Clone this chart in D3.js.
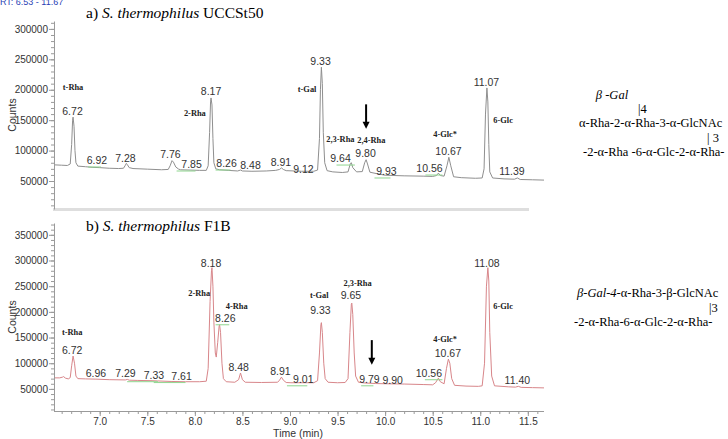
<!DOCTYPE html>
<html>
<head>
<meta charset="utf-8">
<script src="https://cdn.jsdelivr.net/npm/d3@7"></script>
<style>
  body { margin: 0; background: #fff; }
  svg { display: block; }
</style>
</head>
<body>
<svg id="chart"></svg>
<script>
// GC-MS chromatograms of partially methylated alditol acetates
// a) S. thermophilus UCCSt50   b) S. thermophilus F1B

const svg_w = 728;
const svg_h = 439;

// time window shown (min)
const rt_range = [6.53, 11.67];
const x_ticks = [7.0, 7.5, 8.0, 8.5, 9.0, 9.5, 10.0, 10.5, 11.0, 11.5];

// y ticks of each panel
const y_ticks_a = [50000, 100000, 150000, 200000, 250000, 300000];
const y_ticks_b = [50000, 100000, 150000, 200000, 250000, 300000, 350000];

// trace a) : [time (min), counts]
const trace_a = [
  [6.53, 76500], [6.60, 76000], [6.66, 75500], [6.69, 78000], [6.705, 110000], [6.715, 150000],
  [6.72, 155000], [6.73, 140000], [6.74, 100000], [6.75, 80000], [6.77, 74500], [6.85, 73500],
  [6.92, 72500], [7.00, 72000], [7.10, 71000], [7.20, 70500], [7.25, 71000], [7.27, 76000],
  [7.28, 79000], [7.29, 77000], [7.31, 72000], [7.35, 70500], [7.50, 69500], [7.65, 68500],
  [7.72, 69000], [7.74, 75000], [7.76, 83500], [7.775, 81000], [7.80, 73000], [7.83, 69500],
  [7.85, 68500], [7.95, 68000], [8.05, 67500], [8.12, 67500], [8.14, 75000], [8.155, 130000],
  [8.165, 180000], [8.17, 186500], [8.18, 175000], [8.19, 120000], [8.20, 80000], [8.22, 70000],
  [8.26, 68500], [8.35, 67500], [8.45, 66500], [8.48, 68000], [8.50, 66500], [8.60, 66000],
  [8.75, 66500], [8.85, 67500], [8.89, 69000], [8.91, 71500], [8.93, 69000], [8.96, 67000],
  [9.05, 66500], [9.12, 66000], [9.25, 66000], [9.29, 68000], [9.31, 120000], [9.32, 200000],
  [9.33, 237000], [9.34, 210000], [9.35, 130000], [9.365, 80000], [9.39, 67000], [9.45, 65000],
  [9.55, 64000], [9.61, 65000], [9.635, 79000], [9.645, 80000], [9.66, 72000], [9.70, 65000],
  [9.76, 65500], [9.785, 80000], [9.80, 85000], [9.815, 78000], [9.84, 64500], [9.93, 61500],
  [10.0, 59500], [10.2, 58500], [10.4, 58000], [10.50, 57500], [10.54, 59000], [10.56, 63000],
  [10.58, 59000], [10.62, 58000], [10.65, 75000], [10.67, 89000], [10.69, 75000], [10.72, 57000],
  [10.80, 55500], [10.95, 54500], [11.02, 55000], [11.04, 70000], [11.055, 160000], [11.07, 203000],
  [11.08, 180000], [11.09, 110000], [11.10, 65000], [11.13, 55000], [11.25, 53500], [11.36, 53000],
  [11.39, 55000], [11.42, 52500], [11.55, 52000], [11.67, 51500]
];

// trace b) : [time (min), counts]
const trace_b = [
  [6.53, 71500], [6.58, 71500], [6.61, 73000], [6.62, 74000], [6.64, 71000], [6.67, 69500],
  [6.69, 72000], [6.705, 95000], [6.72, 114000], [6.735, 100000], [6.75, 75000], [6.77, 70000],
  [6.85, 69500], [6.96, 69000], [7.10, 68000], [7.27, 67500], [7.29, 68500], [7.31, 67000],
  [7.40, 66500], [7.55, 66000], [7.61, 65500], [7.75, 64500], [7.90, 64000], [8.05, 64000],
  [8.12, 65000], [8.14, 90000], [8.16, 220000], [8.175, 280000], [8.18, 286000], [8.19, 250000],
  [8.20, 180000], [8.215, 120000], [8.225, 112000], [8.24, 140000], [8.255, 172000], [8.26, 175000],
  [8.27, 160000], [8.285, 100000], [8.30, 70000], [8.33, 64000], [8.42, 63000], [8.46, 68000],
  [8.48, 81000], [8.50, 68000], [8.53, 63000], [8.70, 62500], [8.87, 63000], [8.89, 67000],
  [8.91, 73000], [8.93, 67000], [8.96, 62500], [9.01, 62000], [9.15, 62000], [9.25, 62000],
  [9.29, 66000], [9.31, 120000], [9.325, 175000], [9.33, 179000], [9.34, 160000], [9.355, 100000],
  [9.37, 70000], [9.40, 63000], [9.50, 62000], [9.58, 62500], [9.61, 70000], [9.63, 160000],
  [9.645, 215000], [9.65, 217000], [9.66, 195000], [9.675, 120000], [9.69, 75000], [9.72, 63000],
  [9.79, 61500], [9.90, 60500], [10.0, 60000], [10.2, 59500], [10.4, 58500], [10.50, 58000],
  [10.53, 62000], [10.56, 71000], [10.58, 64000], [10.62, 60000], [10.645, 90000], [10.665, 108000],
  [10.68, 100000], [10.70, 70000], [10.73, 57000], [10.85, 55500], [10.98, 55000], [11.02, 56000],
  [11.045, 100000], [11.065, 250000], [11.08, 286000], [11.09, 260000], [11.10, 160000], [11.12, 75000],
  [11.15, 56000], [11.30, 54000], [11.37, 53500], [11.40, 55000], [11.43, 53000], [11.55, 52500],
  [11.67, 52000]
];

// retention time labels: text, where it is centred (min), height of its peak (counts)
const rt_text_a = ["6.72", "6.92", "7.28", "7.76", "7.85", "8.17", "8.26", "8.48", "8.91", "9.12",
                   "9.33", "9.64", "9.80", "9.93", "10.56", "10.67", "11.07", "11.39"];
const rt_at_a = [6.714, 6.971, 7.271, 7.744, 7.965, 8.17, 8.333, 8.585, 8.905, 9.142,
                 9.321, 9.531, 9.794, 10.014, 10.466, 10.666, 11.065, 11.333];
const rt_counts_a = [155000, 74700, 78000, 84600, 68100, 188000, 69700, 66400, 71400, 59900,
                     237500, 77900, 86100, 56600, 61500, 89500, 203000, 56600];
const green_a = ["6.92", "7.85", "8.26", "9.64", "9.93", "10.56"];

const rt_text_b = ["6.72", "6.96", "7.29", "7.33", "7.61", "8.18", "8.26", "8.48", "8.91", "9.01",
                   "9.33", "9.65", "9.79", "9.90", "10.56", "10.67", "11.08", "11.40"];
const rt_at_b = [6.71, 6.96, 7.27, 7.57, 7.86, 8.17, 8.32, 8.46, 8.90, 9.14,
                 9.32, 9.64, 9.835, 10.08, 10.46, 10.66, 11.07, 11.39];
const rt_counts_b = [114500, 70000, 70000, 66000, 64300, 284000, 176800, 81300, 73500, 58000,
                     192400, 221600, 58000, 56200, 69800, 108800, 284000, 56200];
const green_b = ["7.33", "7.61", "8.26", "9.01", "9.79", "10.56"];

// derivative names
const names_a = ["t-Rha", "2-Rha", "t-Gal", "2,3-Rha", "2,4-Rha", "4-Glc*", "6-Glc"];
const names_at_a = [6.72, 8.0, 9.18, 9.53, 9.855, 10.63, 11.24];
const names_counts_a = [204600, 161800, 201000, 119000, 117400, 127000, 150000];

const names_b = ["t-Rha", "2-Rha", "4-Rha", "t-Gal", "2,3-Rha", "4-Glc*", "6-Glc"];
const names_at_b = [6.71, 8.046, 8.44, 9.307, 9.71, 10.63, 11.24];
const names_counts_b = [161000, 237000, 212000, 233000, 257000, 147500, 212000];

// arrows: time, from counts, to counts
const arrow_a = [9.80, 176000, 136000];
const arrow_b = [9.86, 145000, 97000];

// ---------------------------------------------------------------

const sans = "Arial, 'Liberation Sans', sans-serif";
const serif = "'Liberation Serif', 'Times New Roman', serif";

let svg = d3.select("#chart")
  .attr("width", svg_w)
  .attr("height", svg_h)
  .style("font-family", sans);

const ax_x = 54;
let x_scale = d3.scaleLinear().domain(rt_range).range([55, 544]);

const panels = [
  {top: 21, bottom: 209, domain: [4000, 313000], ticks: y_ticks_a, trace: trace_a, color: "#8f8f8f",
   rt: rt_text_a, rt_at: rt_at_a, rt_c: rt_counts_a, green: green_a,
   names: names_a, names_at: names_at_a, names_c: names_counts_a, arrow: arrow_a},
  {top: 223, bottom: 411, domain: [7000, 373000], ticks: y_ticks_b, trace: trace_b, color: "#d8868a",
   rt: rt_text_b, rt_at: rt_at_b, rt_c: rt_counts_b, green: green_b,
   names: names_b, names_at: names_at_b, names_c: names_counts_b, arrow: arrow_b}
];

// light grey frame line under the upper chromatogram
svg.append("line")
  .attr("x1", 53).attr("x2", 529)
  .attr("y1", 209.5).attr("y2", 209.5)
  .attr("stroke", "#dedede")
  .attr("stroke-width", 3);

panels.forEach(p => draw_panel(p));

function draw_panel(p) {
  let y_scale = d3.scaleLinear().domain(p.domain).range([p.bottom, p.top]);

  // minor ticks every 10000
  svg.append("g")
    .attr("transform", `translate(${ax_x},0)`)
    .call(d3.axisLeft(y_scale).tickValues(d3.range(10000, p.domain[1], 10000)).tickSize(3).tickSizeOuter(0).tickFormat(""))
    .call(g => g.selectAll("line").attr("stroke", "#9a9a9a"))
    .call(g => g.select(".domain").attr("stroke", "#9a9a9a"));

  svg.append("g")
    .attr("transform", `translate(${ax_x},0)`)
    .call(d3.axisLeft(y_scale).tickValues(p.ticks).tickSize(5).tickSizeOuter(0).tickPadding(1).tickFormat(d3.format("d")))
    .call(g => g.select(".domain").remove())
    .call(g => g.selectAll("line").attr("stroke", "#9a9a9a"))
    .call(g => g.selectAll("text").attr("font-size", 10).attr("fill", "#333").attr("font-family", sans));

  svg.append("text")
    .attr("transform", `translate(16,${(p.top + p.bottom) / 2}) rotate(-90)`)
    .attr("text-anchor", "middle")
    .attr("font-size", 10.5)
    .attr("fill", "#333")
    .text("Counts");

  let line = d3.line()
    .x(d => x_scale(d[0]))
    .y(d => y_scale(d[1]));

  svg.append("path")
    .datum(p.trace)
    .attr("d", line)
    .attr("fill", "none")
    .attr("stroke", p.color)
    .attr("stroke-width", 1);

  // small green baselines of the minor peaks
  p.rt.forEach((t, i) => {
    if (p.green.indexOf(t) < 0) return;
    let xa = x_scale(+t), xb = x_scale(p.rt_at[i]);
    let yy = y_scale(p.rt_c[i]) + 1;
    svg.append("line")
      .attr("x1", Math.min(xa, xb) - 4).attr("x2", Math.max(xa, xb) + 4)
      .attr("y1", yy).attr("y2", yy)
      .attr("stroke", "#8fd68f")
      .attr("stroke-width", 1);
  });

  svg.append("g")
    .selectAll("text")
    .data(p.rt)
    .enter().append("text")
    .attr("x", (d, i) => x_scale(p.rt_at[i]))
    .attr("y", (d, i) => y_scale(p.rt_c[i]) - 2)
    .attr("text-anchor", "middle")
    .attr("font-size", 10.5)
    .attr("fill", "#333")
    .text(d => d);

  svg.append("g")
    .selectAll("text")
    .data(p.names)
    .enter().append("text")
    .attr("x", (d, i) => x_scale(p.names_at[i]))
    .attr("y", (d, i) => y_scale(p.names_c[i]) + 3)
    .attr("text-anchor", "middle")
    .attr("font-family", serif)
    .attr("font-weight", "bold")
    .attr("font-size", 8.4)
    .attr("fill", "#222")
    .text(d => d);

  // arrow pointing at the 2,4-Rha position
  let ax = x_scale(p.arrow[0]);
  let y1 = y_scale(p.arrow[1]), y2 = y_scale(p.arrow[2]);
  svg.append("line")
    .attr("x1", ax).attr("x2", ax)
    .attr("y1", y1).attr("y2", y2 - 5)
    .attr("stroke", "#000")
    .attr("stroke-width", 2);
  svg.append("path")
    .attr("d", `M${ax - 3.5},${y2 - 7}L${ax + 3.5},${y2 - 7}L${ax},${y2}Z`)
    .attr("fill", "#000");
}

// x axis only under the lower chromatogram
let minor_x = d3.range(66, 117).map(d => d / 10);
svg.append("g")
  .attr("transform", `translate(0,${panels[1].bottom})`)
  .call(d3.axisBottom(x_scale).tickValues(minor_x).tickSize(3).tickSizeOuter(0).tickFormat(""))
  .call(g => g.select(".domain").attr("stroke", "#9a9a9a").attr("d", `M${ax_x},0.5H544`))
  .call(g => g.selectAll("line").attr("stroke", "#9a9a9a"));

svg.append("g")
  .attr("transform", `translate(0,${panels[1].bottom})`)
  .call(d3.axisBottom(x_scale).tickValues(x_ticks).tickSize(5).tickSizeOuter(0).tickPadding(2).tickFormat(d3.format(".1f")))
  .call(g => g.select(".domain").remove())
  .call(g => g.selectAll("line").attr("stroke", "#9a9a9a"))
  .call(g => g.selectAll("text").attr("font-size", 10).attr("fill", "#333").attr("font-family", sans));

svg.append("text")
  .attr("x", 298).attr("y", 437)
  .attr("text-anchor", "middle")
  .attr("font-size", 10.5)
  .attr("fill", "#333")
  .text("Time (min)");

svg.append("text")
  .attr("x", 0).attr("y", 5)
  .attr("font-size", 9)
  .attr("fill", "#2a3fb5")
  .text("RT: 6.53 - 11.67");

// panel titles
function title(y, pre, ital, post) {
  let t = svg.append("text")
    .attr("x", 86).attr("y", y)
    .attr("font-family", serif)
    .attr("font-size", 15.5)
    .attr("fill", "#000");
  t.append("tspan").text(pre);
  t.append("tspan").attr("font-style", "italic").text(ital);
  t.append("tspan").text(post);
}
title(18, "a) ", "S. thermophilus", " UCCSt50");
title(231, "b) ", "S. thermophilus", " F1B");

// repeating unit structures
function struct(x, y, parts, anchor) {
  let t = svg.append("text")
    .attr("x", x).attr("y", y)
    .attr("text-anchor", anchor || "start")
    .attr("font-family", serif)
    .attr("font-size", 12.5)
    .attr("fill", "#000");
  parts.forEach(pt => t.append("tspan").attr("font-style", pt[1] ? "italic" : "normal").text(pt[0]));
}
struct(612, 99, [["\u03b2 -Gal", true]], "middle");
struct(638, 113, [["|4", false]]);
struct(579, 127, [["\u03b1-Rha-2-\u03b1-Rha-3-\u03b1-GlcNAc", false]]);
struct(707, 142, [["| 3", false]]);
struct(583, 156, [["-2-\u03b1-Rha -6-\u03b1-Glc-2-\u03b1-Rha-", false]]);

struct(577, 297, [["\u03b2-Gal-4-", true], ["\u03b1-Rha-3-\u03b2-GlcNAc", false]]);
struct(709, 312, [["|3", false]]);
struct(574, 326, [["-2-\u03b1-Rha-6-\u03b1-Glc-2-\u03b1-Rha-", false]]);
</script>
</body>
</html>
